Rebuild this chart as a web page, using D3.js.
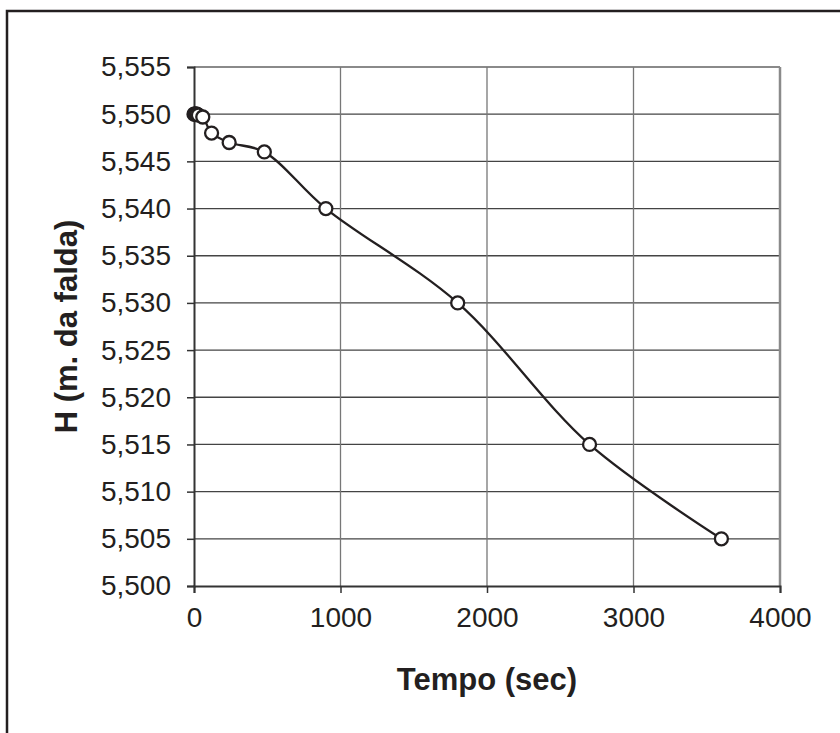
<!DOCTYPE html>
<html>
<head>
<meta charset="utf-8">
<script src="https://cdn.jsdelivr.net/npm/d3@7"></script>
<style>
body { margin: 0; background: #fff; }
svg { display: block; font-family: "Liberation Sans", Arial, sans-serif; }
</style>
</head>
<body>
<svg id="main" width="840" height="733"></svg>
<script>
// dati
const tempo = [0, 5, 10, 15, 20, 30, 60, 120, 240, 480, 900, 1800, 2700, 3600];
const altezza = [5.550, 5.550, 5.550, 5.550, 5.5500, 5.5499, 5.5497, 5.548, 5.547, 5.546, 5.540, 5.530, 5.515, 5.505];
const xTicks = [0, 1000, 2000, 3000, 4000];
const yTicks = [5.500, 5.505, 5.510, 5.515, 5.520, 5.525, 5.530, 5.535, 5.540, 5.545, 5.550, 5.555];

function draw() {
    const svg = d3.select("#main");
    const left = 194, right = 780, top = 67, bottom = 586;

    const x = d3.scaleLinear().domain([0, 4000]).range([left, right]);
    const y = d3.scaleLinear().domain([5.500, 5.555]).range([bottom, top]);

    const it = d3.formatLocale({decimal: ",", thousands: ".", grouping: [3], currency: ["", ""]});
    const fy = it.format(".3f");

    // cornice esterna
    svg.append('rect')
        .attr('x', 7).attr('y', 11)
        .attr('width', 900).attr('height', 900)
        .attr('fill', 'none')
        .attr('stroke', '#231f20')
        .attr('stroke-width', 2.5);

    // griglia orizzontale
    svg.append('g').selectAll('line')
        .data(yTicks.slice(1))
        .join('line')
        .attr('x1', left).attr('x2', right)
        .attr('y1', d => y(d)).attr('y2', d => y(d))
        .attr('stroke', d => d === 5.555 ? '#8a8a8a' : '#444')
        .attr('stroke-width', d => d === 5.555 ? 2 : 1.3);

    // griglia verticale
    svg.append('g').selectAll('line')
        .data(xTicks.slice(1))
        .join('line')
        .attr('x1', d => x(d)).attr('x2', d => x(d))
        .attr('y1', top).attr('y2', bottom)
        .attr('stroke', d => d === 4000 ? '#8a8a8a' : '#777')
        .attr('stroke-width', d => d === 4000 ? 2.5 : 1.3);

    // assi
    const yAxis = svg.append('g')
        .attr('transform', `translate(${left},0)`)
        .call(d3.axisLeft(y).tickValues(yTicks).tickFormat(fy).tickSize(7).tickPadding(16));
    const xAxis = svg.append('g')
        .attr('transform', `translate(0,${bottom})`)
        .call(d3.axisBottom(x).tickValues(xTicks).tickFormat(d3.format("d")).tickSize(7).tickPadding(14));

    [yAxis, xAxis].forEach(g => {
        g.select('.domain').attr('stroke', '#333').attr('stroke-width', 2);
        g.selectAll('.tick line').attr('stroke', '#333').attr('stroke-width', 1.5);
        g.selectAll('.tick text')
            .attr('font-family', '"Liberation Sans", Arial, sans-serif')
            .attr('font-size', 28)
            .attr('fill', '#231f20');
    });

    // curva
    const line = d3.line()
        .x((d, i) => x(tempo[i]))
        .y(d => y(d))
        .curve(d3.curveCatmullRom.alpha(0.5));

    svg.append('path')
        .datum(altezza)
        .attr('d', line)
        .attr('fill', 'none')
        .attr('stroke', '#231f20')
        .attr('stroke-width', 2.3);

    svg.append('g').selectAll('circle')
        .data(altezza)
        .join('circle')
        .attr('cx', (d, i) => x(tempo[i]))
        .attr('cy', d => y(d))
        .attr('r', 6.5)
        .attr('fill', 'white')
        .attr('stroke', '#231f20')
        .attr('stroke-width', 2.3);

    // titoli assi
    svg.append('text')
        .attr('x', (left + right) / 2).attr('y', 690)
        .attr('text-anchor', 'middle')
        .attr('font-size', 31)
        .attr('font-weight', 'bold')
        .attr('fill', '#231f20')
        .text('Tempo (sec)');

    svg.append('text')
        .attr('transform', `translate(77,${(top + bottom) / 2}) rotate(-90)`)
        .attr('text-anchor', 'middle')
        .attr('font-size', 31)
        .attr('font-weight', 'bold')
        .attr('fill', '#231f20')
        .text('H (m. da falda)');
}

draw()
</script>
</body>
</html>
